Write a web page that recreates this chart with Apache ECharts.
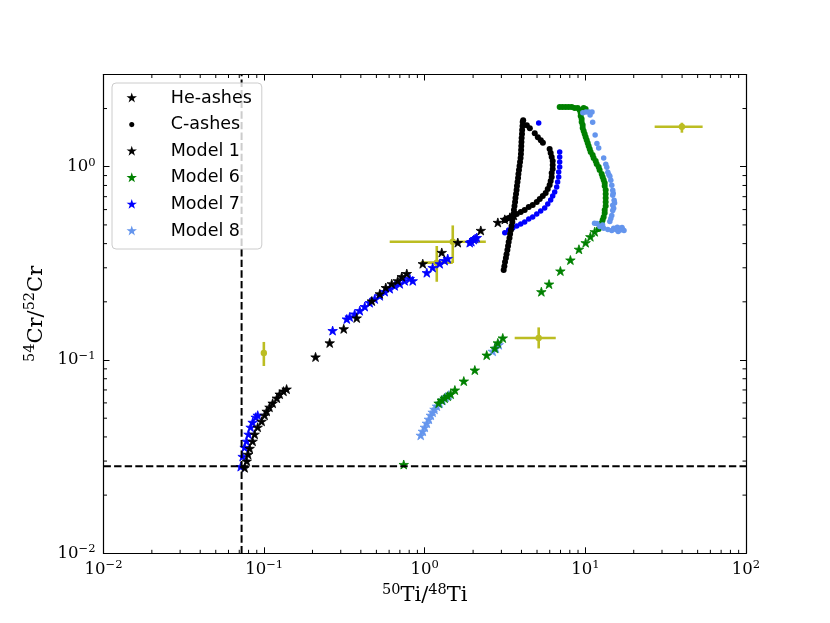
<!DOCTYPE html>
<html>
<head>
<meta charset="utf-8">
<script src="https://cdn.jsdelivr.net/npm/echarts@6/dist/echarts.min.js"></script>
<style>
  html, body { margin: 0; padding: 0; background: #fff; }
  #chart { width: 830px; height: 623px; }
</style>
</head>
<body>
<div id="chart"></div>
<script>
// axis ranges
const xRange = [0.01, 100]
const yRange = [0.01, 3]
// solar reference ratios (dashed lines)
const solarTi = 0.0724
const solarCr = 0.0282

const xMinorTicks = [0.02, 0.03, 0.04, 0.05, 0.06, 0.07, 0.08, 0.09,
  0.2, 0.3, 0.4, 0.5, 0.6, 0.7, 0.8, 0.9,
  2, 3, 4, 5, 6, 7, 8, 9,
  20, 30, 40, 50, 60, 70, 80, 90]
const yMinorTicks = [0.02, 0.03, 0.04, 0.05, 0.06, 0.07, 0.08, 0.09,
  0.2, 0.3, 0.4, 0.5, 0.6, 0.7, 0.8, 0.9, 2]

// Model 1, He-ashes (stars) [50Ti/48Ti, 54Cr/52Cr]
const m1He = [
  [0.0756, 0.0277], [0.078, 0.0300], [0.0795, 0.0325], [0.0813, 0.0349], [0.0848, 0.0380],
  [0.0873, 0.0413], [0.0912, 0.0449], [0.0965, 0.0482], [0.1007, 0.0518], [0.1037, 0.0543],
  [0.108, 0.0570], [0.113, 0.0598], [0.120, 0.0635], [0.125, 0.0666], [0.132, 0.0690],
  [0.138, 0.0707], [0.209, 0.1037], [0.256, 0.1226], [0.313, 0.145], [0.377, 0.165],
  [0.468, 0.202], [0.525, 0.220], [0.572, 0.237], [0.623, 0.248], [0.679, 0.257],
  [0.719, 0.270], [0.773, 0.280], [0.972, 0.315], [1.276, 0.360], [1.606, 0.405],
  [2.233, 0.468], [2.851, 0.515], [3.15, 0.534], [3.386, 0.547], [3.59, 0.56]
]
// Model 1, C-ashes (dots)
const m1C = [
  [3.10, 0.292], [3.13, 0.306], [3.16, 0.321], [3.20, 0.337], [3.23, 0.353], [3.27, 0.371],
  [3.30, 0.389], [3.33, 0.408], [3.37, 0.428], [3.40, 0.449], [3.44, 0.470], [3.47, 0.493],
  [3.51, 0.517], [3.54, 0.543], [3.57, 0.569], [3.59, 0.597], [3.62, 0.626], [3.65, 0.657],
  [3.67, 0.689], [3.70, 0.722], [3.73, 0.758], [3.75, 0.795], [3.78, 0.833], [3.81, 0.874],
  [3.83, 0.917], [3.86, 0.961], [3.89, 1.008], [3.92, 1.057], [3.95, 1.109], [3.97, 1.163],
  [3.98, 1.220], [3.99, 1.280], [4.00, 1.342], [4.01, 1.408], [4.03, 1.476], [4.04, 1.549],
  [4.06, 1.624], [4.07, 1.703], [4.10, 1.74],
  [4.32, 1.64], [4.51, 1.58], [4.84, 1.49], [5.06, 1.42], [5.28, 1.37], [5.44, 1.33],
  [5.99, 1.235], [6.08, 1.177], [6.17, 1.122], [6.26, 1.070], [6.26, 1.020], [6.26, 0.973],
  [6.17, 0.928], [6.17, 0.885], [6.08, 0.843], [5.99, 0.804], [5.83, 0.767], [5.66, 0.731],
  [5.43, 0.705], [5.20, 0.681], [4.98, 0.657], [4.70, 0.634], [4.44, 0.619], [4.19, 0.597],
  [3.96, 0.583], [3.74, 0.569], [3.53, 0.556], [3.33, 0.543], [3.15, 0.530]
]
// Model 6
const m6He = [
  [0.740, 0.0288], [1.22, 0.0598], [1.276, 0.0620], [1.33, 0.0635], [1.39, 0.0650],
  [1.45, 0.0666], [1.54, 0.0699], [1.75, 0.0778], [2.05, 0.0887], [2.43, 0.106],
  [2.73, 0.115], [2.851, 0.1226], [3.06, 0.130],
  [5.32, 0.2256], [5.94, 0.247], [6.99, 0.2887], [8.07, 0.329], [9.12, 0.374],
  [10.04, 0.4045], [10.74, 0.4344], [11.43, 0.461]
]
const m6C = [
  [12.10, 0.476], [12.45, 0.493], [12.63, 0.511], [12.81, 0.530], [13.00, 0.549], [13.19, 0.576],
  [13.19, 0.597], [13.38, 0.626], [13.38, 0.657], [13.38, 0.689], [13.38, 0.722], [13.38, 0.758],
  [13.19, 0.795], [13.19, 0.823], [13.00, 0.853], [12.81, 0.885], [12.63, 0.917], [12.27, 0.961],
  [12.10, 0.996], [11.76, 1.033], [11.59, 1.070], [11.26, 1.109], [11.10, 1.150], [10.79, 1.191],
  [10.64, 1.235], [10.48, 1.280], [10.34, 1.326], [10.19, 1.374], [10.04, 1.424], [9.90, 1.476],
  [9.76, 1.530], [9.62, 1.586], [9.62, 1.644], [9.48, 1.703], [9.48, 1.765], [9.35, 1.829],
  [9.35, 1.896], [9.21, 1.965], [8.96, 2.012], [8.58, 2.012], [8.22, 2.036], [7.87, 2.036],
  [7.54, 2.036], [7.22, 2.036], [6.92, 2.036], [9.76, 2.012], [10.04, 1.988]
]
// Model 7
const m7He = [
  [0.0715, 0.0281], [0.0735, 0.0317], [0.0756, 0.0353], [0.0778, 0.0380], [0.080, 0.0413],
  [0.0824, 0.0449], [0.0848, 0.0476], [0.0886, 0.0506], [0.0912, 0.0518],
  [0.267, 0.142], [0.327, 0.163], [0.341, 0.167], [0.366, 0.173], [0.394, 0.180], [0.423, 0.189],
  [0.454, 0.198], [0.488, 0.207], [0.525, 0.215], [0.563, 0.226], [0.605, 0.234], [0.650, 0.242],
  [0.699, 0.248], [0.750, 0.257], [0.807, 0.264], [0.842, 0.257], [1.03, 0.283], [1.12, 0.301],
  [1.239, 0.315], [1.33, 0.327], [1.39, 0.335], [1.906, 0.405], [1.95, 0.41], [2.02, 0.420],
  [2.06, 0.425], [2.108, 0.430]
]
const m7C = [
  [3.15, 0.456], [3.33, 0.470], [3.53, 0.482], [3.74, 0.493], [3.96, 0.505], [4.19, 0.517],
  [4.44, 0.536], [4.70, 0.549], [4.98, 0.569], [5.27, 0.590], [5.58, 0.611], [5.83, 0.641],
  [6.08, 0.673], [6.26, 0.705], [6.44, 0.740], [6.63, 0.785], [6.72, 0.833], [6.82, 0.885],
  [6.82, 0.939], [6.92, 0.996], [6.92, 1.057], [6.92, 1.122], [6.92, 1.191], [5.12, 1.683]
]
// Model 8
const m8He = [
  [0.944, 0.0408], [0.972, 0.0428], [1.0, 0.0449], [1.03, 0.0471], [1.06, 0.0494], [1.09, 0.0518],
  [1.12, 0.0537], [1.15, 0.0556], [1.19, 0.0577], [1.239, 0.0598], [1.29, 0.0620], [1.35, 0.0643],
  [1.41, 0.0658], [2.65, 0.111], [2.77, 0.115], [2.89, 0.120]
]
const m8C = [
  [9.64, 1.90], [10.07, 1.92], [10.5, 1.92], [11.0, 1.92], [10.7, 1.85], [11.1, 1.70],
  [11.5, 1.46], [11.8, 1.32], [12.1, 1.25], [13.0, 1.11], [13.4, 1.03], [13.6, 0.994],
  [13.8, 0.936], [14.0, 0.91], [14.2, 0.893], [14.4, 0.851], [14.6, 0.802], [14.8, 0.755],
  [14.9, 0.73], [14.8, 0.711], [15.1, 0.670], [15.2, 0.65], [14.8, 0.631], [15.0, 0.61],
  [14.8, 0.594], [14.6, 0.560], [14.4, 0.540], [14.2, 0.52], [11.8, 0.509], [11.4, 0.51],
  [12.8, 0.50], [12.3, 0.491], [13.0, 0.480], [13.8, 0.473], [14.6, 0.468], [15.0, 0.48],
  [15.5, 0.473], [15.8, 0.486], [16.2, 0.480], [16.5, 0.47], [16.9, 0.485], [17.0, 0.475],
  [17.4, 0.468], [16.0, 0.462]
]
// grain measurements: [x, y, xLow, xHigh, yLow, yHigh]
const grains = [
  [0.0996, 0.1087, 0.0996, 0.0996, 0.0931, 0.124],
  [1.494, 0.409, 0.605, 2.40, 0.3176, 0.497],
  [1.188, 0.319, 0.944, 1.494, 0.254, 0.389],
  [5.12, 0.130, 3.63, 6.54, 0.1148, 0.1475],
  [39.9, 1.61, 27.0, 53.7, 1.50, 1.689]
]

const black = '#000000'
const green = '#008000'
const blue = '#0000ff'
const lightBlue = '#6495ed'
const olive = '#bcbd22'

// matplotlib-like five point star
function starPoints() {
  let pts = []
  for (let i = 0; i < 10; i++) {
    let r = i % 2 === 0 ? 1 : 0.381966
    let a = Math.PI / 2 + i * Math.PI / 5
    pts.push((r * Math.cos(a)).toFixed(4) + ',' + (-r * Math.sin(a)).toFixed(4))
  }
  return 'M' + pts.join('L') + 'Z'
}
const star = 'path://' + starPoints()
// legend icons keep some empty room around the mark (zero length corner segments)
const starIcon = 'path://M-1.05,-1.05L-1.05,-1.05M1.05,1.05L1.05,1.05' + starPoints()
const dotIcon = 'path://M0,0L0,0M10,10L10,10M2.8,5A2.2,2.2,0,1,1,7.2,5A2.2,2.2,0,1,1,2.8,5Z'

const serif = 'DejaVu Serif'
const richText = {
  b: { fontSize: 16.5, fontFamily: serif, lineHeight: 20, color: '#000' },
  s: { fontSize: 11.5, fontFamily: serif, lineHeight: 10, verticalAlign: 'top', color: '#000' }
}
const richName = {
  b: { fontSize: 21, fontFamily: serif, lineHeight: 26, color: '#000' },
  s: { fontSize: 14.5, fontFamily: serif, lineHeight: 14, verticalAlign: 'top', color: '#000' }
}

function tickLabel(v) {
  let e = Math.log10(v)
  let r = Math.round(e)
  if (Math.abs(e - r) > 1e-6) return ''
  return '{b|10}{s|' + String(r).replace('-', '\u2212') + '}'
}

function starSeries(name, data, color) {
  return {
    name: name, type: 'scatter', data: data, symbol: star, symbolKeepAspect: true,
    symbolSize: 9.5, itemStyle: { color: color, borderColor: color, borderWidth: 0.8, opacity: 1 }
  }
}
function dotSeries(name, data, color, size) {
  return {
    name: name, type: 'scatter', data: data, symbol: 'circle',
    symbolSize: size, itemStyle: { color: color, opacity: 1 }
  }
}

const axisLine = { show: true, onZero: false, lineStyle: { color: '#000', width: 1.2 } }
const majorTick = { show: true, inside: true, length: 6, lineStyle: { color: '#000', width: 1 } }
const minorLen = 3.5

let myChart = echarts.init(document.getElementById('chart'))
let option = {
  animation: false,
  backgroundColor: '#fff',
  grid: { left: 103.5, right: 84, top: 74.5, bottom: 69.7 },
  legend: {
    orient: 'vertical', left: 112, top: 83,
    padding: [5, 10, 8, 14],
    itemWidth: 22, itemHeight: 11.5, itemGap: 6.6,
    borderColor: '#cccccc', borderWidth: 1, borderRadius: 4,
    backgroundColor: 'rgba(255,255,255,0.8)',
    selectedMode: false,
    itemStyle: { borderWidth: 0 },
    textStyle: { fontFamily: 'DejaVu Sans', fontSize: 17.5, lineHeight: 20, color: '#000', padding: [0, 0, 0, 23] },
    data: [
      { name: 'He-ashes', icon: starIcon },
      { name: 'C-ashes', icon: dotIcon },
      { name: 'Model 1', icon: starIcon },
      { name: 'Model 6', icon: starIcon },
      { name: 'Model 7', icon: starIcon },
      { name: 'Model 8', icon: starIcon }
    ]
  },
  xAxis: [
    {
      type: 'log', logBase: 10, min: xRange[0], max: xRange[1], position: 'bottom',
      axisLine: axisLine, axisTick: majorTick, splitLine: { show: false },
      axisLabel: { formatter: tickLabel, rich: richText, margin: 6, showMinLabel: true, showMaxLabel: true },
      name: '{s|50}{b|Ti/}{s|48}{b|Ti}', nameLocation: 'middle', nameGap: 26,
      nameTextStyle: { rich: richName }
    },
    {
      type: 'log', logBase: 10, min: xRange[0], max: xRange[1], position: 'top',
      axisLine: axisLine, axisTick: majorTick, splitLine: { show: false }, axisLabel: { show: false }
    }
  ],
  yAxis: [
    {
      type: 'log', logBase: 10, min: yRange[0], max: yRange[1], position: 'left',
      axisLine: axisLine, axisTick: majorTick, splitLine: { show: false },
      axisLabel: { formatter: tickLabel, rich: richText, margin: 8, showMinLabel: true, showMaxLabel: true },
      name: '{s|54}{b|Cr/}{s|52}{b|Cr}', nameLocation: 'middle', nameGap: 47, nameRotate: 90,
      nameTextStyle: { rich: richName }
    },
    {
      type: 'log', logBase: 10, min: yRange[0], max: yRange[1], position: 'right',
      axisLine: axisLine, axisTick: majorTick, splitLine: { show: false }, axisLabel: { show: false }
    }
  ],
  series: [
    // minor ticks on bottom and top
    {
      type: 'custom', silent: true, data: xMinorTicks.map(v => [v, yRange[0]]),
      renderItem: (params, api) => {
        let b = api.coord([api.value(0), yRange[0]])
        let t = api.coord([api.value(0), yRange[1]])
        let st = { stroke: '#000', lineWidth: 1 }
        return { type: 'group', children: [
          { type: 'line', shape: { x1: b[0], y1: b[1], x2: b[0], y2: b[1] - minorLen }, style: st },
          { type: 'line', shape: { x1: t[0], y1: t[1], x2: t[0], y2: t[1] + minorLen }, style: st }
        ] }
      }
    },
    // minor ticks on left and right
    {
      type: 'custom', silent: true, data: yMinorTicks.map(v => [xRange[0], v]),
      renderItem: (params, api) => {
        let l = api.coord([xRange[0], api.value(1)])
        let r = api.coord([xRange[1], api.value(1)])
        let st = { stroke: '#000', lineWidth: 1 }
        return { type: 'group', children: [
          { type: 'line', shape: { x1: l[0], y1: l[1], x2: l[0] + minorLen, y2: l[1] }, style: st },
          { type: 'line', shape: { x1: r[0], y1: r[1], x2: r[0] - minorLen, y2: r[1] }, style: st }
        ] }
      }
    },
    {
      name: 'solarTi', type: 'line', silent: true, showSymbol: false,
      data: [[solarTi, yRange[0]], [solarTi, yRange[1]]],
      lineStyle: { color: black, width: 2, type: [7.4, 3.2] }
    },
    {
      name: 'solarCr', type: 'line', silent: true, showSymbol: false,
      data: [[xRange[0], solarCr], [xRange[1], solarCr]],
      lineStyle: { color: black, width: 2, type: [7.4, 3.2] }
    },
    // presolar grain data with error bars
    {
      name: 'grains', type: 'custom', silent: true, data: grains,
      encode: { x: 0, y: 1 },
      renderItem: (params, api) => {
        let c = api.coord([api.value(0), api.value(1)])
        let xl = api.coord([api.value(2), api.value(1)])
        let xh = api.coord([api.value(3), api.value(1)])
        let yl = api.coord([api.value(0), api.value(4)])
        let yh = api.coord([api.value(0), api.value(5)])
        let st = { stroke: olive, lineWidth: 2.6 }
        return { type: 'group', children: [
          { type: 'line', shape: { x1: xl[0], y1: c[1], x2: xh[0], y2: c[1] }, style: st },
          { type: 'line', shape: { x1: c[0], y1: yl[1], x2: c[0], y2: yh[1] }, style: st },
          { type: 'circle', shape: { cx: c[0], cy: c[1], r: 3.2 }, style: { fill: olive } }
        ] }
      }
    },
    starSeries('He-ashes', [], black),
    dotSeries('C-ashes', [], black, 5),
    dotSeries('Model 6 C', m6C, green, 6),
    dotSeries('Model 8 C', m8C, lightBlue, 5.5),
    dotSeries('Model 7 C', m7C, blue, 5.5),
    dotSeries('Model 1 C', m1C, black, 6),
    starSeries('Model 8', m8He, lightBlue),
    starSeries('Model 7', m7He, blue),
    starSeries('Model 6', m6He, green),
    starSeries('Model 1', m1He, black)
  ]
}
myChart.setOption(option)
</script>
</body>
</html>
